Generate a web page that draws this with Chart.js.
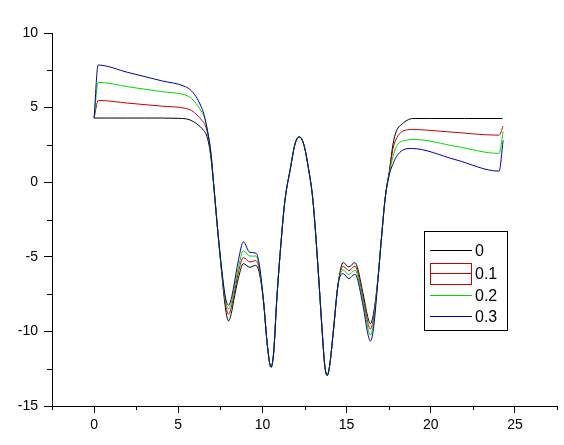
<!DOCTYPE html>
<html>
<head>
<meta charset="utf-8">
<script src="https://cdn.jsdelivr.net/npm/chart.js@4/dist/chart.umd.min.js"></script>
<style>
  html, body { margin: 0; padding: 0; background: #fff; }
  canvas { display: block; }
</style>
</head>
<body>
<canvas id="c" width="564" height="445"></canvas>
<script>
// ---- data ----
const seriesLabels = ['0', '0.1', '0.2', '0.3'];
const seriesColors = ['#000000', '#c80000', '#00d800', '#0000a8'];
const xTickValues = [0, 5, 10, 15, 20, 25];
const yTickValues = [-15, -10, -5, 0, 5, 10];

// shared centre part (identical for all series)
const coreMid = [
  [10.06,-7.92],[10.3,-11.0],[10.51,-12.4],[10.67,-11.4],[10.85,-7.92],[11.15,-3.44],
  [11.34,-1.21],[11.68,1.03],[11.9,2.4],[12.05,2.9],[12.19,3.04],[12.33,2.9],[12.5,2.35],[12.72,1.03],
  [13.0,-1.21],[13.3,-5.68],[13.56,-10.15],[13.7,-12.25],[13.85,-12.95],[14.0,-12.25],
  [14.2,-10.15],[14.5,-6.8]
];
const coreFall = [[7.1,-0.1],[7.35,-3.3]];
const coreRise = [[17.06,-3.9],[17.3,-1.0]];

const left0 = [[0,4.3],[1,4.3],[2,4.3],[3,4.3],[4,4.3],[5,4.28],[5.5,4.24],[5.92,4.05],[6.2,3.82],[6.41,3.6],[6.71,3.04],[6.9,2.0]];
const dip0  = [[7.6,-6.3],[7.8,-8.4],[7.99,-9.3],[8.15,-8.8],[8.3,-7.9],[8.58,-6.4],[8.87,-5.46],[9.25,-5.7],[9.6,-5.57],[9.8,-6.0]];
const bump0 = [[14.8,-5.39],[15.13,-5.68],[15.49,-5.39],[15.98,-7.47],[16.25,-9.0],[16.41,-9.48],[16.6,-8.8],[16.86,-6.5]];
const right0 = [[17.56,0.9],[17.75,2.5],[17.95,3.4],[18.34,3.94],[18.6,4.15],[18.93,4.27],[20,4.27],[22,4.27],[24.26,4.27]];

const left1 = [[0,4.3],[0.25,5.48],[2,5.3],[4,5.1],[5.43,4.95],[5.8,4.8],[6.12,4.5],[6.4,4.15],[6.61,3.8],[6.8,3.0],[6.95,1.9]];
const dip1  = [[7.6,-6.2],[7.8,-8.1],[7.99,-8.85],[8.15,-8.4],[8.3,-7.6],[8.58,-6.0],[8.87,-5.05],[9.25,-5.35],[9.6,-5.25],[9.8,-5.8]];
const bump1 = [[14.8,-5.63],[15.13,-5.93],[15.49,-5.63],[15.98,-7.75],[16.25,-9.35],[16.41,-9.85],[16.6,-9.1],[16.86,-6.5]];
const right1 = [[17.56,0.8],[17.75,2.2],[17.95,2.9],[18.34,3.42],[18.9,3.53],[21,3.38],[24.06,3.15],[24.3,3.76]];

const left2 = [[0,4.3],[0.24,6.69],[2,6.4],[4,6.07],[5.43,5.84],[5.8,5.6],[6.12,5.17],[6.4,4.7],[6.61,4.16],[6.8,3.04],[6.95,1.8]];
const dip2  = [[7.6,-6.1],[7.8,-7.9],[7.99,-8.5],[8.15,-8.1],[8.3,-7.3],[8.58,-5.7],[8.87,-4.6],[9.25,-4.95],[9.6,-4.95],[9.8,-5.6]];
const bump2 = [[14.8,-5.88],[15.13,-6.2],[15.49,-5.9],[15.98,-8.0],[16.25,-9.7],[16.41,-10.25],[16.6,-9.4],[16.86,-6.5]];
const right2 = [[17.56,0.7],[17.75,1.7],[17.95,2.37],[18.55,2.82],[19.03,2.86],[21.5,2.4],[24.06,1.93],[24.3,3.4]];

const left3 = [[0,4.3],[0.24,7.85],[2,7.36],[4,6.8],[5.43,6.4],[5.8,6.1],[6.12,5.62],[6.35,5.1],[6.51,4.61],[6.8,3.04],[6.95,1.8]];
const dip3  = [[7.6,-6.0],[7.8,-7.7],[7.99,-8.25],[8.15,-7.8],[8.28,-7.1],[8.58,-5.2],[8.87,-4.0],[9.25,-4.7],[9.6,-4.75],[9.8,-5.4]];
const bump3 = [[14.8,-6.13],[15.13,-6.46],[15.49,-6.17],[15.98,-8.3],[16.25,-10.1],[16.41,-10.65],[16.6,-9.8],[16.86,-6.6]];
const right3 = [[17.56,0.6],[17.75,1.2],[17.95,1.7],[18.34,2.15],[18.84,2.26],[21.5,1.5],[24.06,0.74],[24.3,2.8]];

// ---- build ----
function assemble(l, d, b, r) {
  return [].concat(l, coreFall, d, coreMid, b, coreRise, r).map(p => ({x: p[0], y: p[1]}));
}
const seriesData = [
  assemble(left0, dip0, bump0, right0),
  assemble(left1, dip1, bump1, right1),
  assemble(left2, dip2, bump2, right2),
  assemble(left3, dip3, bump3, right3)
];

const FONT = "'Liberation Sans', Arial, sans-serif";

const minorTicks = {
  id: 'minorTicks',
  afterDraw(chart) {
    const {ctx} = chart;
    const xs = chart.scales.x, ys = chart.scales.y;
    ctx.save();
    ctx.strokeStyle = '#000';
    ctx.lineWidth = 1;
    for (let v = xs.min; v <= xs.max + 1e-9; v += 2.5) {
      if (Math.abs(v / 5 - Math.round(v / 5)) < 1e-6) continue;
      const px = Math.round(xs.getPixelForValue(v)) + 0.5;
      ctx.beginPath(); ctx.moveTo(px, ys.bottom); ctx.lineTo(px, ys.bottom + 4); ctx.stroke();
    }
    for (let v = ys.min; v <= ys.max + 1e-9; v += 2.5) {
      if (Math.abs(v / 5 - Math.round(v / 5)) < 1e-6) continue;
      const py = Math.round(ys.getPixelForValue(v)) + 0.5;
      ctx.beginPath(); ctx.moveTo(xs.left, py); ctx.lineTo(xs.left - 5, py); ctx.stroke();
    }
    ctx.restore();
  }
};

const boxLegend = {
  id: 'boxLegend',
  afterDraw(chart) {
    const {ctx} = chart;
    const bx = 424.5, by = 231.5, bw = 83, bh = 99;
    ctx.save();
    ctx.strokeStyle = '#000'; ctx.lineWidth = 1;
    ctx.strokeRect(bx, by, bw, bh);
    ctx.font = '16px ' + FONT;
    ctx.textBaseline = 'middle';
    ctx.fillStyle = '#000';
    const rows = [250.5, 273.5, 295.5, 316.5];
    chart.data.datasets.forEach((ds, i) => {
      const y = rows[i];
      ctx.strokeStyle = ds.borderColor;
      ctx.beginPath(); ctx.moveTo(430, y); ctx.lineTo(472, y); ctx.stroke();
      if (i === 1) ctx.strokeRect(430.5, 263.5, 41, 21);
      ctx.fillText(ds.label, 475, y + 1);
    });
    ctx.restore();
  }
};

new Chart(document.getElementById('c'), {
  type: 'line',
  data: {
    datasets: seriesData.map((d, i) => ({
      label: seriesLabels[i],
      data: d,
      borderColor: seriesColors[i],
      borderWidth: 1,
      pointRadius: 0,
      fill: false,
      order: seriesData.length - 1 - i,
      cubicInterpolationMode: 'monotone'
    }))
  },
  options: {
    responsive: false,
    devicePixelRatio: 1,
    animation: false,
    layout: { padding: { top: 33, right: 7, left: 0, bottom: 0 } },
    plugins: { legend: { display: false }, tooltip: { enabled: false } },
    scales: {
      x: {
        type: 'linear', min: -2.5, max: 27.5,
        afterBuildTicks: s => { s.ticks = xTickValues.map(v => ({value: v})); },
        afterFit: s => { s.height = 39; },
        grid: { display: true, drawOnChartArea: false, drawTicks: true, tickLength: 7, color: '#000', lineWidth: 1 },
        border: { display: true, color: '#000', width: 1 },
        ticks: { color: '#000', font: { family: FONT, size: 14 }, padding: 4, maxRotation: 0 }
      },
      y: {
        type: 'linear', min: -15, max: 10,
        afterBuildTicks: s => { s.ticks = yTickValues.map(v => ({value: v})); },
        afterFit: s => { s.width = 52; },
        grid: { display: true, drawOnChartArea: false, drawTicks: true, tickLength: 8, color: '#000', lineWidth: 1 },
        border: { display: true, color: '#000', width: 1 },
        ticks: { color: '#000', font: { family: FONT, size: 14 }, padding: 6 }
      }
    }
  },
  plugins: [minorTicks, boxLegend]
});
</script>
</body>
</html>
